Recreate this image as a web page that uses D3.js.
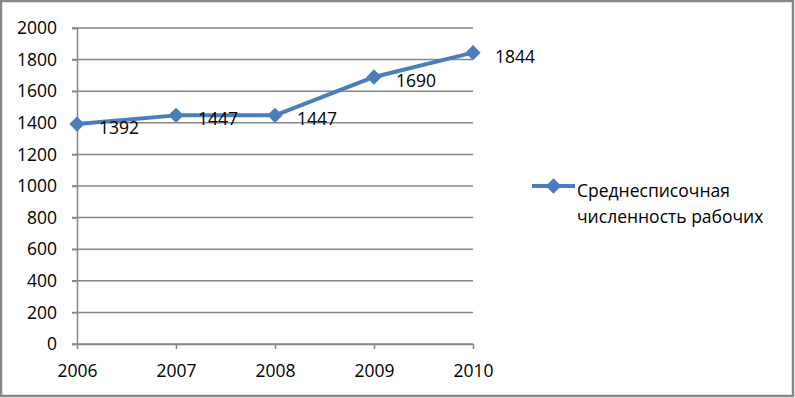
<!DOCTYPE html>
<html>
<head>
<meta charset="utf-8">
<script src="https://cdn.jsdelivr.net/npm/d3@7"></script>
<style>
  body { margin: 0; background: #fff; }
  svg text { font-family: "Open Sans", "Liberation Sans", sans-serif; fill: #000; }
</style>
</head>
<body>
<div id="chart"></div>
<script>
// data
const years = ["2006", "2007", "2008", "2009", "2010"];
const workers = [1392, 1447, 1447, 1690, 1844];
const yTicks = [0, 200, 400, 600, 800, 1000, 1200, 1400, 1600, 1800, 2000];
const seriesName = ["Среднесписочная", "численность рабочих"];

const width = 795;
const height = 398;
const margin = { top: 28, right: 322, bottom: 54, left: 77 };
const fontSize = "17.5px";

const svg = d3.select("#chart")
    .append("svg")
    .attr("width", width)
    .attr("height", height);

// outer frame
svg.append("rect")
    .attr("x", 1).attr("y", 1)
    .attr("width", width - 3).attr("height", height - 3)
    .attr("fill", "#fff")
    .attr("stroke", "#868686")
    .attr("stroke-width", 2.5);

const x = d3.scalePoint()
    .domain(years)
    .range([margin.left, width - margin.right]);

const y = d3.scaleLinear()
    .domain([0, 2000])
    .range([height - margin.bottom, margin.top]);

// gridlines
svg.append("g")
    .selectAll("line")
    .data(yTicks)
    .join("line")
    .attr("x1", margin.left - 5)
    .attr("x2", width - margin.right)
    .attr("y1", d => y(d))
    .attr("y2", d => y(d))
    .attr("stroke", "#868686")
    .attr("stroke-width", 1.5);

// y axis
const yAxis = svg.append("g")
    .attr("transform", `translate(${margin.left},0)`)
    .call(d3.axisLeft(y).tickValues(yTicks).tickFormat(d3.format("d")).tickSize(5).tickPadding(15));
yAxis.select(".domain").attr("stroke", "#868686").attr("stroke-width", 1.5);
yAxis.selectAll(".tick line").attr("stroke", "#868686").attr("stroke-width", 1.5);
yAxis.selectAll("text").style("font-size", fontSize);

// x axis
const xAxis = svg.append("g")
    .attr("transform", `translate(0,${height - margin.bottom})`)
    .call(d3.axisBottom(x).tickSize(5).tickSizeOuter(0).tickPadding(16));
xAxis.select(".domain").attr("stroke", "#868686").attr("stroke-width", 1.5);
xAxis.selectAll(".tick line").attr("stroke", "#868686").attr("stroke-width", 1.5);
xAxis.selectAll("text").style("font-size", fontSize);

const blue = "#4a7ebb";
const diamond = d3.symbol().type(d3.symbolDiamond2).size(150);

// line
const line = d3.line()
    .x((d, i) => x(years[i]))
    .y(d => y(d));

svg.append("path")
    .datum(workers)
    .attr("d", line)
    .attr("fill", "none")
    .attr("stroke", blue)
    .attr("stroke-width", 4)
    .attr("stroke-linejoin", "round");

svg.append("g")
    .selectAll("path")
    .data(workers)
    .join("path")
    .attr("d", diamond)
    .attr("transform", (d, i) => `translate(${x(years[i])},${y(d)})`)
    .attr("fill", blue);

// data labels
svg.append("g")
    .selectAll("text")
    .data(workers)
    .join("text")
    .attr("x", (d, i) => x(years[i]) + 22)
    .attr("y", d => y(d) + 3)
    .attr("dominant-baseline", "central")
    .style("font-size", fontSize)
    .text(d => d);

// legend
const legend = svg.append("g")
    .attr("transform", `translate(532,186)`);

legend.append("line")
    .attr("x1", 0).attr("x2", 43)
    .attr("y1", 0).attr("y2", 0)
    .attr("stroke", blue)
    .attr("stroke-width", 4);

legend.append("path")
    .attr("d", diamond)
    .attr("transform", "translate(21.5,0)")
    .attr("fill", blue);

legend.selectAll("text")
    .data(seriesName)
    .join("text")
    .attr("x", 45)
    .attr("y", (d, i) => 4 + i * 26)
    .attr("dominant-baseline", "central")
    .style("font-size", fontSize)
    .text(d => d);
</script>
</body>
</html>
